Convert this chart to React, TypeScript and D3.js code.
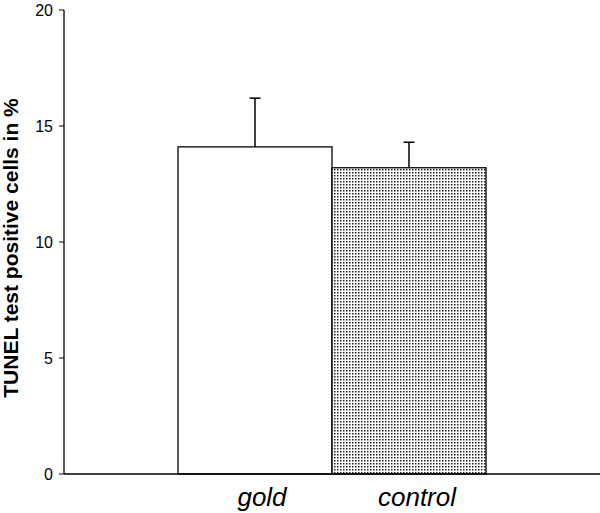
import React from "react";
import * as d3 from "d3";

const categories = ["gold", "control"];
const means = [14.1, 13.2];
const errors = [2.1, 1.1];
const yTicks = [0, 5, 10, 15, 20];
const yLabel = "TUNEL test positive cells in %";

export default function App() {
  const W = 600, H = 513;
  const y = d3.scaleLinear().domain([0, 20]).range([474, 10]);
  const x = d3.scaleBand<string>().domain(categories).range([178, 486]).padding(0);
  const font = "'Liberation Sans', Arial, Helvetica, sans-serif";
  return (
    <svg width={W} height={H} style={{ position: "absolute", left: 0, top: 0, background: "#fff" }}>
      <defs>
        <pattern id="dots" patternUnits="userSpaceOnUse" width={3} height={3}>
          <rect width={3} height={3} fill="#fff" />
          <rect x={1} y={1} width={1.5} height={1.5} fill="#222" />
        </pattern>
      </defs>
      {categories.map((c, i) => (
        <g key={c}>
          <line
            x1={x(c)! + x.bandwidth() / 2}
            x2={x(c)! + x.bandwidth() / 2}
            y1={y(means[i])}
            y2={y(means[i] + errors[i])}
            stroke="#000"
            strokeWidth={1.5}
          />
          <line
            x1={x(c)! + x.bandwidth() / 2 - 5.5}
            x2={x(c)! + x.bandwidth() / 2 + 5.5}
            y1={y(means[i] + errors[i])}
            y2={y(means[i] + errors[i])}
            stroke="#000"
            strokeWidth={1.5}
          />
          <rect
            x={x(c)!}
            y={y(means[i])}
            width={x.bandwidth()}
            height={y(0) - y(means[i])}
            fill={i === 0 ? "#fff" : "url(#dots)"}
            stroke="#000"
            strokeWidth={1.3}
          />
          <text
            x={x(c)! + x.bandwidth() / 2 + (i === 0 ? 7 : 8)}
            y={506}
            textAnchor="middle"
            fontFamily={font}
            fontStyle="italic"
            fontSize={26}
            fill="#000"
          >
            {c}
          </text>
        </g>
      ))}
      <line x1={64} x2={64} y1={y(20)} y2={y(0)} stroke="#000" strokeWidth={1.3} />
      <line x1={64} x2={600} y1={y(0)} y2={y(0)} stroke="#000" strokeWidth={1.5} />
      {yTicks.map((t) => (
        <g key={t}>
          <line x1={59} x2={64} y1={y(t)} y2={y(t)} stroke="#000" strokeWidth={1} />
          <text
            x={53}
            y={y(t)}
            dy="0.36em"
            textAnchor="end"
            fontFamily={font}
            fontSize={16}
            fill="#000"
          >
            {t}
          </text>
        </g>
      ))}
      <text
        transform={`translate(18, 248) rotate(-90)`}
        textAnchor="middle"
        fontFamily={font}
        fontWeight="bold"
        fontSize={21}
        fill="#000"
      >
        {yLabel}
      </text>
    </svg>
  );
}
